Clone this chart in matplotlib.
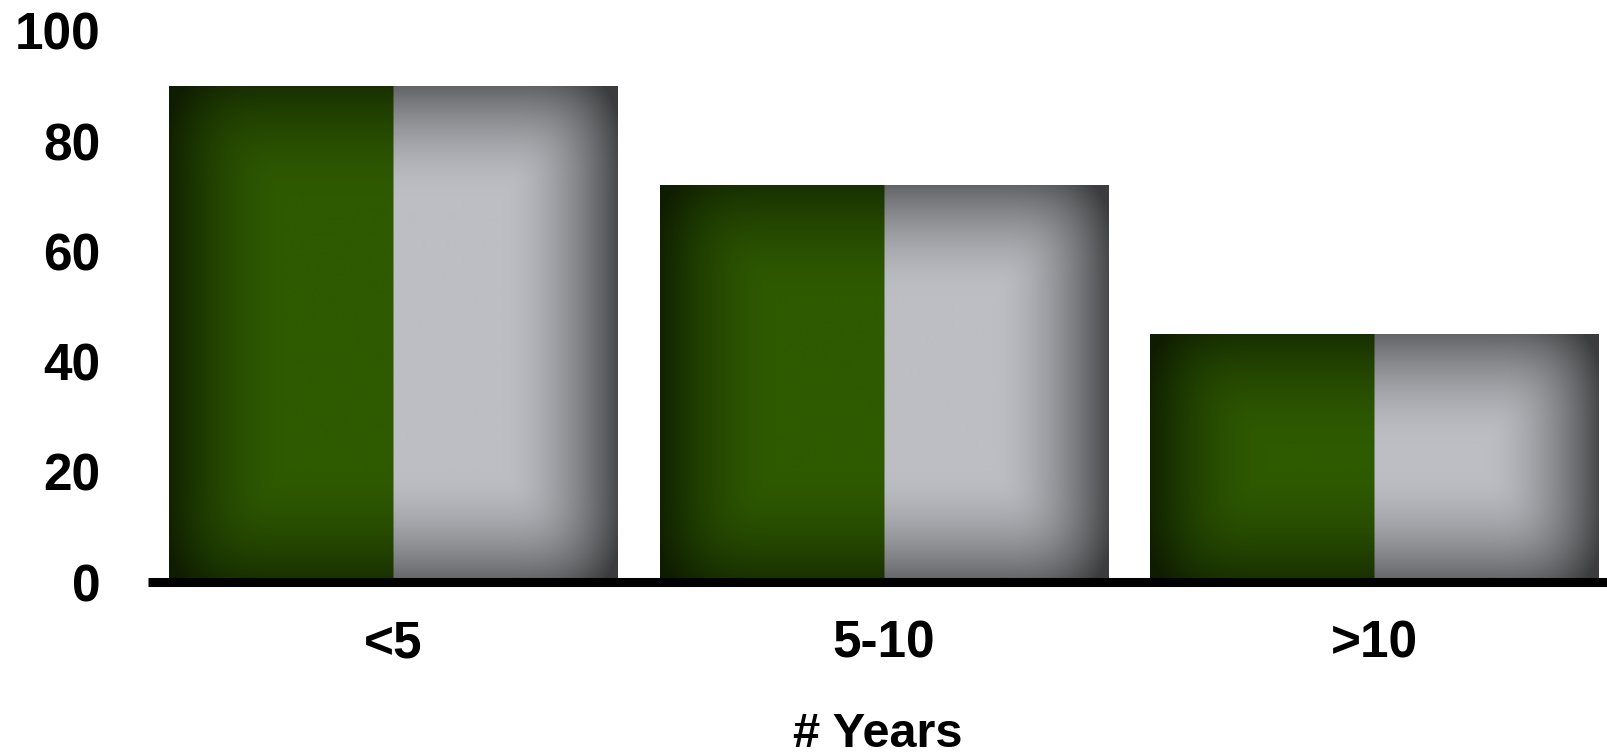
import numpy as np
import matplotlib
matplotlib.use("Agg")
import matplotlib.pyplot as plt

plt.rcParams['font.family'] = ['Liberation Sans', 'DejaVu Sans']
plt.rcParams['font.weight'] = 'bold'

# data
categories = ['<5', '5-10', '>10']
green_vals = [90, 72, 45]
gray_vals = [90, 72, 45]
y_ticks = [0, 20, 40, 60, 80, 100]

green_col = np.array([46, 90, 0]) / 255.0
gray_col = np.array([188, 190, 195]) / 255.0

fig = plt.figure(figsize=(16.08, 7.55), dpi=100)
ax = fig.add_axes([148 / 1608, (755 - 582) / 755, (1608 - 148) / 1608, (582 - 31) / 755])

x = np.arange(len(categories))
w = 0.457
bars_g = ax.bar(x - w / 2, green_vals, w, color=green_col, zorder=1)
bars_s = ax.bar(x + w / 2, gray_vals, w, color=gray_col, zorder=1)

ax.set_xlim(-0.5, 2.477)
ax.set_ylim(0, 100)


def shade_group(bl, br, base_l, base_r):
    # one soft vignette over the whole group (left + right bar)
    x0 = bl.get_x()
    x1 = br.get_x() + br.get_width()
    h = bl.get_height()
    p0 = ax.transData.transform((x0, 0))
    p1 = ax.transData.transform((x1, h))
    wpx = p1[0] - p0[0]
    hpx = p1[1] - p0[1]
    nx, ny = int(wpx), int(hpx)
    xs = np.arange(nx) + 0.5
    ys = np.arange(ny) + 0.5
    dx = np.minimum(xs, wpx - xs)
    dy = np.minimum(ys, hpx - ys)
    ex = 0.62 * np.clip(1 - dx / 115.0, 0, 1) ** 1.7
    ey = 0.48 * np.clip(1 - dy / 110.0, 0, 1) ** 1.7
    EX, EY = np.meshgrid(ex, ey)
    shade = 1 - np.clip(np.sqrt(EX ** 2 + EY ** 2), 0, 0.68)
    half = nx // 2
    img = np.zeros((ny, nx, 3))
    img[:, :half] = base_l[None, None, :] * shade[:, :half, None]
    img[:, half:] = base_r[None, None, :] * shade[:, half:, None]
    ax.imshow(img, extent=(x0, x1, 0, h), origin='lower', aspect='auto',
              interpolation='bilinear', zorder=1.5)


for bl, br in zip(bars_g, bars_s):
    shade_group(bl, br, green_col, gray_col)

ax.set_xlim(-0.5, 2.477)
ax.set_ylim(0, 100)

for side in ['top', 'right', 'left']:
    ax.spines[side].set_visible(False)
ax.spines['bottom'].set_linewidth(6.5)
ax.spines['bottom'].set_capstyle('butt')
ax.spines['bottom'].set_zorder(3)

ax.set_yticks(y_ticks)
ax.set_xticks(x)
ax.set_xticklabels(categories)
ax.tick_params(axis='y', length=0, pad=34, labelsize=37)
ax.tick_params(axis='x', length=0, pad=27, labelsize=37)
ax.set_xlabel('# Years', fontsize=35, fontweight='bold', labelpad=31)

fig.savefig('out.png', dpi=100)
